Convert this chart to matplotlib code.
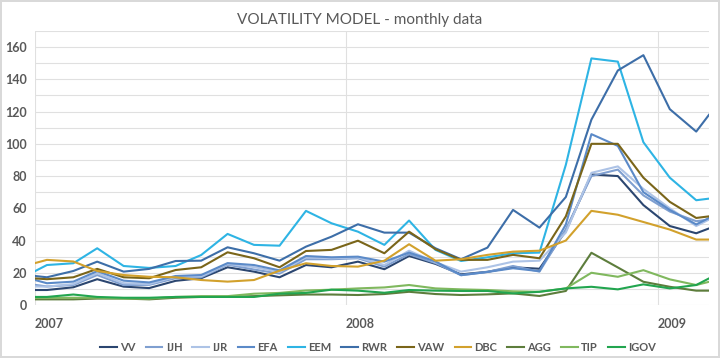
import pandas as pd
import matplotlib.pyplot as plt

dates = pd.to_datetime([
    '2007-01-01', '2007-01-15', '2007-02-15', '2007-03-15', '2007-04-15', '2007-05-15',
    '2007-06-15', '2007-07-15', '2007-08-15', '2007-09-15', '2007-10-15', '2007-11-15',
    '2007-12-15', '2008-01-15', '2008-02-15', '2008-03-15', '2008-04-15', '2008-05-15',
    '2008-06-15', '2008-07-15', '2008-08-15', '2008-09-15', '2008-10-15', '2008-11-15',
    '2008-12-15', '2009-01-15', '2009-02-15', '2009-03-02'])

vv = [9.3, 9.3, 11, 16, 11.4, 10.5, 15, 16.6, 23.4, 20.7, 17.2, 24.8, 23.4, 26.9,
      22.2, 30.4, 25.5, 19, 20.6, 23.4, 22.5, 46, 81, 80, 62, 49, 44.5, 47.5]
ijh = [12.5, 11.5, 12.4, 18.6, 12.4, 12.5, 16.6, 17.2, 25, 22, 19.5, 28.4, 28.4, 29,
       23.8, 31.5, 26, 18.5, 20.5, 24.2, 20.7, 47, 80, 84, 68, 58, 52, 53]
ijr = [11.5, 11.4, 13, 19.7, 13.5, 13, 17.5, 17.8, 25.5, 23.5, 20.5, 29.6, 29, 29.5,
       24.8, 33.7, 26.5, 20.7, 23.4, 26.9, 27.5, 45, 82, 86, 72, 60, 49, 53]
efa = [15.5, 13.5, 14.5, 21, 15.1, 14, 18, 18.6, 26, 24.8, 21.5, 30.4, 29.6, 30,
       26.9, 32.5, 27, 18.5, 20.5, 22.8, 21, 50, 106, 98.7, 70, 59, 50, 54]
eem = [21, 24.8, 25.9, 35.2, 24.2, 23, 24.2, 31, 44.1, 37.3, 36.8, 58.4, 50.7, 45.5,
       37.3, 52.4, 34.2, 27.3, 29.6, 32.1, 32.5, 87, 153, 151, 101, 79, 65, 66]
rwr = [18, 17.2, 21.1, 26.9, 20.7, 22.4, 27.3, 27.5, 35.8, 32.1, 27.5, 36.2, 42.4, 50.1,
       44.9, 44.9, 35.2, 28.4, 35.6, 59, 48, 67, 115, 145.5, 155, 121.5, 107.6, 118]
vaw = [16.5, 16, 17.2, 22.4, 17.2, 16.6, 21.7, 23.4, 32.7, 29, 23.4, 33.5, 34.2, 39.9,
       32.1, 45.5, 34.6, 28, 28, 31.1, 29, 55, 100, 100, 79, 64, 54, 55]
dbc = [26, 28, 27, 21.1, 18.6, 17.5, 17.2, 15.5, 14.5, 15.5, 21.3, 25.9, 24.2, 23.8,
       27.5, 37.7, 27.5, 28.4, 31.1, 33.1, 33.7, 40, 58.4, 56, 51.5, 46.8, 40.6, 40.6]
agg = [3.5, 3.5, 3.5, 4, 4, 3.5, 4.5, 5, 5, 5.5, 6, 6.5, 6.5, 6.2,
       6.8, 8.2, 6.8, 6.2, 6.6, 7.2, 5.6, 8.7, 32.4, 23.3, 14.4, 11.3, 8.9, 8.9]
tip = [4.5, 4.5, 4.5, 4.5, 4, 4, 5, 5.5, 5.5, 7, 7.5, 9, 9.5, 10.3,
       10.9, 12.4, 10.3, 9.7, 9.3, 8.5, 8.2, 10.3, 20, 17.5, 21.6, 15.9, 12.4, 14.4]
igov = [5, 5, 6.5, 5, 4.5, 4.5, 5, 5, 5, 5, 7, 7.5, 9.5, 8.9,
        7.6, 9.3, 8.9, 8.7, 8.7, 7.2, 8.2, 10.3, 11.3, 9.7, 12.8, 10.3, 12.4, 16.5]

names = ['VV', 'IJH', 'IJR', 'EFA', 'EEM', 'RWR', 'VAW', 'DBC', 'AGG', 'TIP', 'IGOV']
series = [vv, ijh, ijr, efa, eem, rwr, vaw, dbc, agg, tip, igov]
colors = ['#2b4670', '#7f9fd0', '#adc3e6', '#5b8ac8', '#2eb4e4', '#3d6ea8',
          '#7a6519', '#d2a12c', '#5d7d3c', '#80b85e', '#22a54f']

plt.rcParams['font.family'] = ['Lato', 'DejaVu Sans']
text_color = '#595959'

fig = plt.figure(figsize=(7.2, 3.58), dpi=100)
fig.patch.set_edgecolor('#d9d9d9')
fig.patch.set_linewidth(1.5)
ax = fig.add_axes([35 / 720, 53 / 358, 674 / 720, 274 / 358])

for name, vals, c in zip(names, series, colors):
    ax.plot(dates, vals, color=c, linewidth=1.5, label=name)

ax.set_ylim(0, 170)
ax.set_yticks(range(0, 170, 20))
ax.set_yticks(range(0, 171, 10), minor=True)
ax.set_xlim(pd.Timestamp('2007-01-01'), dates[-1])
years = pd.to_datetime(['2007-01-01', '2008-01-01', '2009-01-01'])
ax.set_xticks(years)
ax.set_xticklabels(['2007', '2008', '2009'], ha='left')
ax.grid(axis='y', which='both', color='#e0e0e0', linewidth=0.8)
ax.grid(axis='x', which='major', color='#e0e0e0', linewidth=0.8)
ax.set_axisbelow(True)
for s in ax.spines.values():
    s.set_visible(False)
ax.tick_params(axis='both', which='both', length=0, colors=text_color, labelsize=9)
for lab in ax.get_xticklabels() + ax.get_yticklabels():
    lab.set_fontweight('bold')
ax.tick_params(axis='x', pad=9)
ax.tick_params(axis='y', pad=6)

fig.text(0.5, 0.945, 'VOLATILITY MODEL - monthly data', ha='center', va='center',
         fontsize=11, color=text_color)

leg = fig.legend(loc='center', bbox_to_anchor=(0.525, 0.03), ncol=11, frameon=False,
                 handlelength=1.5, columnspacing=0.9, handletextpad=0.3,
                 prop={'size': 8, 'weight': 'bold'})
for t in leg.get_texts():
    t.set_color(text_color)

plt.savefig('out.png', dpi=100)
